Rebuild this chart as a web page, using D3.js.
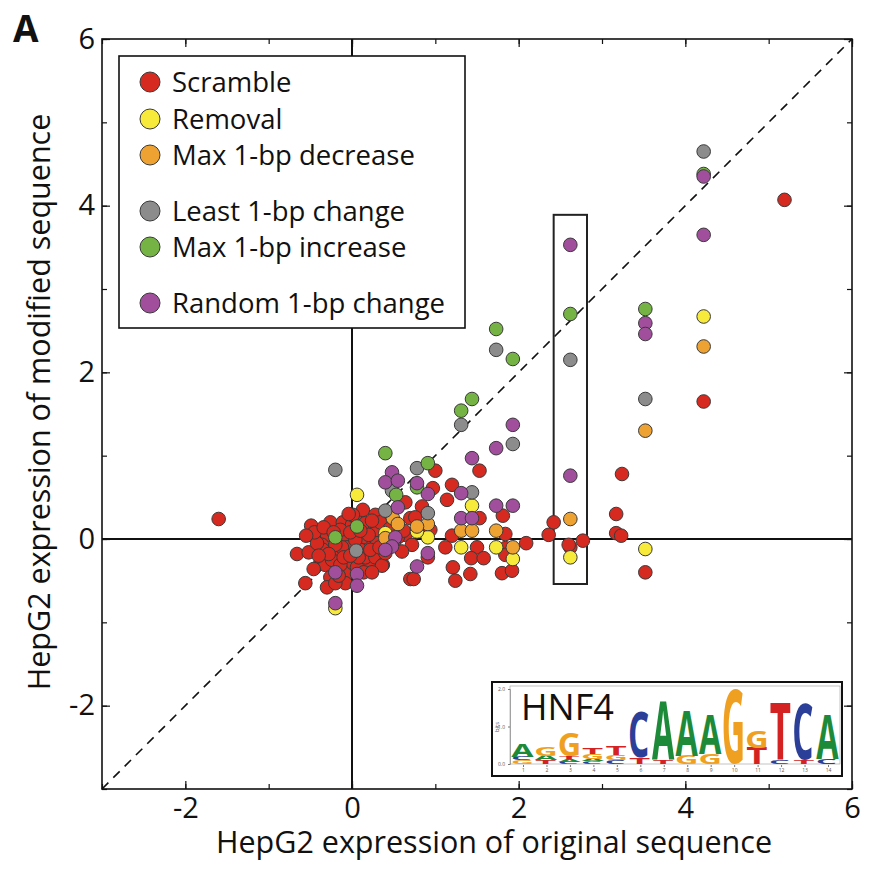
<!DOCTYPE html>
<html>
<head>
<meta charset="utf-8">
<script src="https://cdn.jsdelivr.net/npm/d3@7"></script>
<style>
  body { margin: 0; background: #fff; }
  svg { display: block; }
  text { font-family: "Open Sans", sans-serif; }
</style>
</head>
<body>
<svg id="chart" width="880" height="880"></svg>
<script>
// series values, [original, modified]
var scramble = [
  [-1.60,0.24],[5.19,4.07],[4.22,1.65],[3.52,-0.40],[3.24,0.78],[3.17,0.30],[3.17,0.07],[3.23,0.04],
  [2.77,-0.02],[2.62,-0.10],[2.60,-0.07],[2.42,0.20],[2.36,0.05],[2.09,-0.05],
  [1.53,0.82],[1.00,0.82],[0.97,0.61],[1.20,0.65],[1.14,0.47],[1.81,0.28],[1.53,0.25],[1.84,0.06],
  [1.20,0.04],[1.50,-0.10],[1.12,-0.10],[1.84,-0.11],[1.43,-0.23],[1.58,-0.23],[1.80,-0.41],[1.92,-0.38],
  [1.21,-0.34],[1.24,-0.50],[1.42,-0.42],[0.70,-0.48],[0.74,-0.48],[0.91,-0.22],[0.94,0.11],[0.84,0.39],
  [1.84,-0.19],[0.64,0.05],[0.72,-0.07],
  [-0.49,0.16],[-0.26,0.20],[-0.11,0.20],[0.00,0.17],[0.04,0.26],[-0.42,0.01],[-0.30,0.05],[-0.36,-0.07],
  [-0.06,0.01],[-0.66,-0.18],[-0.52,-0.16],[-0.35,-0.13],[-0.18,-0.16],[-0.06,-0.10],[-0.38,-0.29],
  [-0.32,-0.31],[-0.26,-0.46],[-0.30,-0.58],[-0.56,-0.53],[-0.06,-0.41],[-0.08,-0.53],[-0.20,-0.53],
  [-0.42,-0.05],[-0.12,-0.10],[0.13,0.35],[0.28,0.29],[0.01,0.29],[0.16,0.19],[0.28,0.14],[0.28,0.08],
  [0.22,-0.29],[0.16,-0.22],[0.28,-0.22],[0.18,-0.05],[0.30,-0.05],[0.13,0.02],[0.01,-0.29],[0.06,-0.34],
  [0.37,-0.31],[0.55,0.02],[0.64,0.44],[0.70,0.25],[0.76,0.26],[0.36,-0.32],[0.40,-0.17],[-0.14,0.11],
  [-0.20,-0.07],[0.10,-0.13],[0.22,-0.13],[0.04,-0.01],[-0.24,-0.25],[-0.14,-0.31],[-0.45,0.08],
  [-0.10,-0.22],[0.20,0.05],[-0.02,0.08],[-0.28,-0.18],[0.08,-0.22],[0.34,0.20],[0.45,0.12],[0.50,-0.05],
  [0.62,0.10],[0.46,0.30],[0.60,-0.15],[0.33,-0.10],
  [-0.55,0.04],[-0.46,-0.36],[-0.16,-0.44],[0.14,-0.40],[0.24,0.22],[-0.04,0.30],[0.10,0.10],
  [-0.34,0.14],[-0.22,0.08],[-0.40,-0.20],[-0.02,-0.20],[0.24,-0.40]
];
var removal = [
  [4.22,2.67],[3.52,-0.12],[2.62,-0.22],[1.93,-0.24],[1.73,-0.10],[1.31,-0.10],[1.44,0.40],[0.91,0.02],
  [0.78,0.09],[0.40,0.07],[0.06,0.53],[-0.20,-0.83]
];
var maxDecrease = [
  [4.22,2.31],[3.52,1.30],[2.62,0.24],[1.93,-0.10],[1.73,0.10],[1.31,0.10],[1.44,0.10],[0.91,0.18],
  [0.78,0.15],[0.49,0.25],[0.55,0.18],[0.40,0.01]
];
var leastChange = [
  [4.22,4.65],[3.52,1.68],[2.62,2.15],[1.73,2.27],[1.31,1.37],[1.93,1.14],[0.78,0.85],[1.44,0.56],
  [0.91,0.31],[0.48,0.58],[0.40,0.34],[-0.20,0.83],[0.05,-0.14]
];
var maxIncrease = [
  [4.22,4.38],[3.52,2.76],[2.62,2.70],[1.73,2.52],[1.93,2.16],[1.44,1.68],[1.31,1.54],[0.91,0.91],
  [0.78,0.62],[0.40,1.03],[0.53,0.53],[0.06,0.15],[-0.20,0.02]
];
var randomChange = [
  [4.22,4.35],[4.22,3.65],[3.52,2.59],[3.52,2.46],[2.62,3.53],[2.62,0.76],[1.93,1.37],[1.73,1.09],
  [1.44,0.97],[0.78,0.67],[0.91,0.54],[1.31,0.55],[1.73,0.40],[1.93,0.40],[1.31,0.25],[1.44,0.25],
  [0.91,-0.17],[0.78,-0.33],[0.48,0.80],[0.40,0.68],[0.55,0.70],[0.55,0.38],[0.52,0.02],[0.48,-0.09],
  [0.40,-0.13],[-0.20,-0.40],[0.06,-0.42],[0.06,-0.56],[-0.20,-0.77]
];
var seriesNames = ["Scramble","Removal","Max 1-bp decrease","Least 1-bp change","Max 1-bp increase","Random 1-bp change"];
var seriesData = [scramble, removal, maxDecrease, leastChange, maxIncrease, randomChange];
var seriesColors = ["#d62a20","#f7ea3a","#eea232","#8c8c8c","#75b444","#a14f9c"];
var xTicks = [-2,0,2,4,6];
var yTicks = [-2,0,2,4,6];
var boxedX = [2.42,2.82], boxedY = [-0.54,3.89];

// HNF4 motif, stacks bottom to top [letter, bits]
var motifStacks = [
  [["G",0.10],["C",0.10],["A",0.33]],
  [["T",0.10],["A",0.12],["G",0.24]],
  [["C",0.06],["A",0.07],["T",0.07],["G",0.62]],
  [["C",0.08],["A",0.06],["G",0.12],["T",0.18]],
  [["C",0.10],["G",0.14],["T",0.24]],
  [["T",0.18],["C",1.18]],
  [["T",0.10],["A",1.52]],
  [["G",0.22],["A",1.18]],
  [["G",0.26],["A",1.00]],
  [["G",1.93]],
  [["T",0.42],["G",0.44]],
  [["C",0.10],["T",1.47]],
  [["T",0.10],["C",1.47]],
  [["C",0.14],["A",1.12]]
];
var letterColors = {A:"#1d8a3a", C:"#2b3f98", G:"#f0a020", T:"#d42222"};

var svg = d3.select("#chart");
var x = d3.scaleLinear().domain([-3,6]).range([102,852]);
var y = d3.scaleLinear().domain([-3,6]).range([789,39]);

// zero lines
svg.append("line").attr("x1", x(0)).attr("x2", x(0)).attr("y1", y(6)).attr("y2", y(-3))
  .attr("stroke", "#111").attr("stroke-width", 2);
svg.append("line").attr("x1", x(-3)).attr("x2", x(6)).attr("y1", y(0)).attr("y2", y(0))
  .attr("stroke", "#111").attr("stroke-width", 2);
// y = x
svg.append("line").attr("x1", x(-3)).attr("y1", y(-3)).attr("x2", x(6)).attr("y2", y(6))
  .attr("stroke", "#111").attr("stroke-width", 1.6).attr("stroke-dasharray", "9,7");

// highlighted column
svg.append("rect")
  .attr("x", x(boxedX[0])).attr("y", y(boxedY[1]))
  .attr("width", x(boxedX[1]) - x(boxedX[0])).attr("height", y(boxedY[0]) - y(boxedY[1]))
  .attr("fill", "none").attr("stroke", "#222").attr("stroke-width", 2);

// points
seriesData.forEach(function(pts, k) {
  svg.append("g").selectAll("circle")
    .data(pts)
    .enter()
    .append("circle")
    .attr("cx", function(d) { return x(d[0]); })
    .attr("cy", function(d) { return y(d[1]); })
    .attr("r", 6.8)
    .attr("fill", seriesColors[k])
    .attr("stroke", "#3a3a3a")
    .attr("stroke-width", 1);
});

// frame and ticks
svg.append("rect").attr("x", 102).attr("y", 39).attr("width", 750).attr("height", 750)
  .attr("fill", "none").attr("stroke", "#111").attr("stroke-width", 1.6);

var minor = d3.range(-3, 7);
function tickAxis(axis, tr) {
  var g = svg.append("g").attr("transform", tr).call(axis);
  g.select(".domain").remove();
  g.selectAll(".tick line").attr("stroke", "#111").attr("stroke-width", 1.2);
  return g;
}
tickAxis(d3.axisBottom(x).tickValues(minor).tickSize(-5).tickFormat(""), "translate(0,789)");
tickAxis(d3.axisTop(x).tickValues(minor).tickSize(-5).tickFormat(""), "translate(0,39)");
tickAxis(d3.axisLeft(y).tickValues(minor).tickSize(-5).tickFormat(""), "translate(102,0)");
tickAxis(d3.axisRight(y).tickValues(minor).tickSize(-5).tickFormat(""), "translate(852,0)");
tickAxis(d3.axisTop(x).tickValues(xTicks).tickSize(-8).tickFormat(""), "translate(0,39)");
tickAxis(d3.axisRight(y).tickValues(yTicks).tickSize(-8).tickFormat(""), "translate(852,0)");

var gx = tickAxis(d3.axisBottom(x).tickValues(xTicks).tickSize(-8).tickPadding(8)
  .tickFormat(function(d) { return d < 0 ? "-" + Math.abs(d) : d; }), "translate(0,789)");
var gy = tickAxis(d3.axisLeft(y).tickValues(yTicks).tickSize(-8).tickPadding(7)
  .tickFormat(function(d) { return d < 0 ? "-" + Math.abs(d) : d; }), "translate(102,0)");
svg.selectAll(".tick text").attr("font-family", "Open Sans").attr("font-size", 29).attr("fill", "#111");

// axis titles
svg.append("text").attr("x", 494).attr("y", 853).attr("text-anchor", "middle")
  .attr("font-size", 30.5).attr("fill", "#111").text("HepG2 expression of original sequence");
svg.append("text").attr("transform", "translate(50,402) rotate(-90)").attr("text-anchor", "middle")
  .attr("font-size", 30.5).attr("fill", "#111").text("HepG2 expression of modified sequence");

// panel label
svg.append("text").attr("x", 13).attr("y", 42).attr("font-size", 37).attr("font-weight", "bold")
  .attr("fill", "#111").text("A");

// legend
var legendY = [82, 119, 155, 211, 247, 303];
var lg = svg.append("g");
lg.append("rect").attr("x", 119).attr("y", 56).attr("width", 346).attr("height", 272)
  .attr("fill", "#fff").attr("stroke", "#111").attr("stroke-width", 1.6);
seriesNames.forEach(function(name, k) {
  lg.append("circle").attr("cx", 150).attr("cy", legendY[k]).attr("r", 10)
    .attr("fill", seriesColors[k]).attr("stroke", "#3a3a3a").attr("stroke-width", 1);
  lg.append("text").attr("x", 172).attr("y", legendY[k] + 10).attr("font-size", 27.5)
    .attr("fill", "#111").text(name);
});

// motif logo inset
var ins = svg.append("g");
ins.append("rect").attr("x", 492).attr("y", 682).attr("width", 350).attr("height", 94)
  .attr("fill", "#fff").attr("stroke", "#111").attr("stroke-width", 2);
var lx = d3.scaleLinear().domain([1,14]).range([523,828]);
var ly = d3.scaleLinear().domain([0,2]).range([764,689]);
ins.append("rect").attr("x", 510).attr("y", 686).attr("width", 330).attr("height", 78)
  .attr("fill", "none").attr("stroke", "#999").attr("stroke-width", 0.6);
var lya = ins.append("g").attr("transform", "translate(510,0)")
  .call(d3.axisLeft(ly).tickValues([0,1,2]).tickSize(2).tickFormat(d3.format(".1f")));
lya.select(".domain").attr("stroke", "#777").attr("stroke-width", 0.6);
lya.selectAll(".tick line").attr("stroke", "#777");
lya.selectAll(".tick text").attr("font-size", 5).attr("fill", "#555");
var lxa = ins.append("g").attr("transform", "translate(0,765)")
  .call(d3.axisBottom(lx).tickValues(d3.range(1,15)).tickSize(2).tickPadding(1));
lxa.select(".domain").remove();
lxa.selectAll(".tick line").attr("stroke", "#777");
lxa.selectAll(".tick text").attr("font-size", 5).attr("fill", "#555");
ins.append("text").attr("transform", "translate(499,727) rotate(-90)").attr("text-anchor", "middle")
  .attr("font-size", 6).attr("fill", "#555").text("bits");

// letters scaled to fill their boxes
var ctx = document.createElement("canvas").getContext("2d");
var lfont = "Liberation Sans";
ctx.font = "bold 100px '" + lfont + "'";
var colW = 22;
motifStacks.forEach(function(stack, i) {
  var base = 0;
  stack.forEach(function(s) {
    var m = ctx.measureText(s[0]);
    var gw = m.actualBoundingBoxLeft + m.actualBoundingBoxRight;
    var gh = m.actualBoundingBoxAscent + m.actualBoundingBoxDescent;
    var top = ly(base + s[1]), bot = ly(base);
    var sx = colW / gw, sy = (bot - top) / gh;
    ins.append("text")
      .attr("font-family", lfont).attr("font-weight", "bold").attr("font-size", 100)
      .attr("fill", letterColors[s[0]])
      .attr("transform", "translate(" + (lx(i + 1) - colW / 2) + "," + bot + ") scale(" + sx + "," + sy + ") translate(" +
        m.actualBoundingBoxLeft + "," + (-m.actualBoundingBoxDescent) + ")")
      .text(s[0]);
    base += s[1];
  });
});
ins.append("text").attr("x", 521).attr("y", 720).attr("font-family", "Liberation Sans")
  .attr("font-size", 36).attr("fill", "#111").text("HNF4");
</script>
</body>
</html>
